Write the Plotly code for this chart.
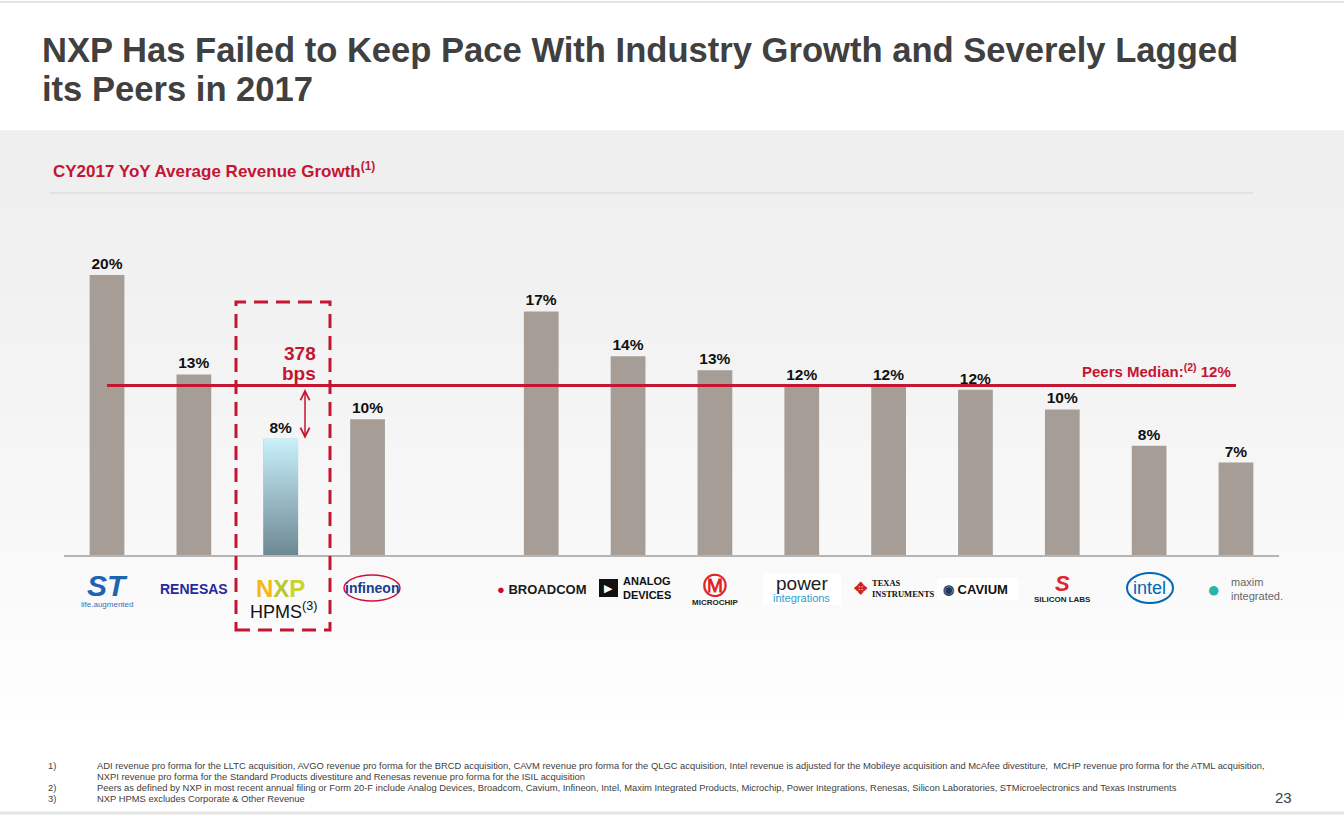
import plotly.graph_objects as go

W, H = 1344, 816

# ---------------- data ----------------
companies = ["STMicroelectronics", "Renesas", "NXP HPMS", "Infineon",
             "Broadcom", "Analog Devices", "Microchip", "Power Integrations",
             "Texas Instruments", "Cavium", "Silicon Labs", "Intel", "Maxim Integrated"]
tickers = ["STM US", "Renesas JP", "NXPI HPMS", "IFX GR",
           "AVGO US", "ADI US", "MCHP US", "POWI US",
           "TXN US", "CAVM US", "SLAB US", "INTC US", "MXIM US"]
group = [0, 0, 0, 0, 1, 1, 1, 1, 1, 1, 1, 1, 1]
growth = [20.0, 12.9, 8.3, 9.7, 17.4, 14.2, 13.2, 12.1, 12.1, 11.8, 10.4, 7.8, 6.6]
growth_labels = ["20%", "13%", "8%", "10%", "17%", "14%", "13%", "12%", "12%", "12%", "10%", "8%", "7%"]
peers_median = 12.1
median_label = "12%"
gap_bps = "378"
nxp_index = 2

positions = [i + g for i, g in enumerate(group)]

FONT = "Liberation Sans, Arial, sans-serif"
RED = "#c41532"
BAR = "#a59d96"


def px(x):
    return x / W


def py(y):
    return 1 - y / H


# ---------------- plot area geometry ----------------
x_left, x_right = 63.6, 1279.4
y_base, y_top = 555, 205
y_max = 25

colors = [BAR] * len(growth)
colors[nxp_index] = "#9cc3cd"

fig = go.Figure()
fig.add_trace(go.Bar(
    x=positions, y=growth, width=0.4,
    marker=dict(color=colors, line=dict(width=0)),
    text=growth_labels, textposition="outside",
    textfont=dict(family=FONT, size=15.5, color="#111111", weight="bold"),
    cliponaxis=False, hoverinfo="skip", showlegend=False,
))

# gradient fill for NXP bar
p = positions[nxp_index]
v = growth[nxp_index]
fig.add_trace(go.Scatter(
    x=[p - 0.2, p + 0.2, p + 0.2, p - 0.2, p - 0.2],
    y=[0, 0, v, v, 0],
    mode="lines", line=dict(width=0), fill="toself",
    fillgradient=dict(type="vertical", colorscale=[[0, "#6d8893"], [1, "#c9f1fb"]]),
    hoverinfo="skip", showlegend=False,
))

shapes = []
# background gradient band
n = 40
top, bot = 130, 730
for k in range(n):
    y0 = top + (bot - top) * k / n
    y1 = top + (bot - top) * (k + 1) / n
    c = int(239 + (255 - 239) * (k / (n - 1)) ** 1.3)
    shapes.append(dict(type="rect", xref="paper", yref="paper", x0=0, x1=1,
                       y0=py(y1), y1=py(y0), fillcolor=f"rgb({c},{c},{c})",
                       line=dict(width=0), layer="below"))
# top / bottom thin frame lines
shapes.append(dict(type="line", xref="paper", yref="paper", x0=0, x1=1, y0=py(2), y1=py(2),
                   line=dict(color="#e4e4e4", width=2)))
shapes.append(dict(type="line", xref="paper", yref="paper", x0=0, x1=1, y0=py(813), y1=py(813),
                   line=dict(color="#e4e4e4", width=3)))
# subtitle rule
shapes.append(dict(type="line", xref="paper", yref="paper", x0=px(50), x1=px(1253),
                   y0=py(193), y1=py(193), line=dict(color="#dedede", width=1.5)))
# median line
shapes.append(dict(type="line", xref="x", yref="y", x0=positions[0], x1=positions[-1],
                   y0=peers_median, y1=peers_median, line=dict(color=RED, width=3), layer="above"))
# dashed box around NXP
shapes.append(dict(type="rect", xref="paper", yref="paper", x0=px(236), x1=px(330),
                   y0=py(630), y1=py(302), line=dict(color=RED, width=3, dash="14px,8px"),
                   fillcolor="rgba(0,0,0,0)", layer="above"))
# logo decorations
shapes.append(dict(type="circle", xref="paper", yref="paper", x0=px(344), x1=px(400),
                   y0=py(601), y1=py(575), line=dict(color="#d0103a", width=1.5)))
shapes.append(dict(type="circle", xref="paper", yref="paper", x0=px(1127), x1=px(1173),
                   y0=py(603), y1=py(573), line=dict(color="#0068b5", width=2)))
shapes.append(dict(type="rect", xref="paper", yref="paper", x0=px(599), x1=px(618),
                   y0=py(597), y1=py(579), fillcolor="#111111", line=dict(width=0)))
shapes.append(dict(type="rect", xref="paper", yref="paper", x0=px(763), x1=px(841),
                   y0=py(605), y1=py(573), fillcolor="#ffffff", line=dict(width=0)))
shapes.append(dict(type="rect", xref="paper", yref="paper", x0=px(937), x1=px(1018),
                   y0=py(600), y1=py(578), fillcolor="#ffffff", line=dict(width=0)))

annotations = []


def txt(x, y, text, size, color="#111111", xanchor="center", yanchor="middle",
        bold=False, family=FONT, align="center"):
    annotations.append(dict(
        x=px(x), y=py(y), xref="paper", yref="paper", text=text, showarrow=False,
        xanchor=xanchor, yanchor=yanchor, align=align,
        font=dict(family=family, size=size, color=color, weight="bold" if bold else "normal"),
    ))


# Title (two lines)
txt(40, 50, "NXP Has Failed to Keep Pace With Industry Growth and Severely Lagged",
    34.6, "#404040", xanchor="left", bold=True, align="left")
txt(40, 89, "its Peers in 2017",
    34.6, "#404040", xanchor="left", bold=True, align="left")
# subtitle
txt(51, 170, "CY2017 YoY Average Revenue Growth<sup>(1)</sup>", 17, RED, xanchor="left", bold=True)

# median label
txt(1233, 371, "Peers Median:<sup>(2)</sup> " + median_label, 15, RED, xanchor="right", bold=True)
# bps label
txt(318, 353, gap_bps, 19, RED, xanchor="right", bold=True)
txt(318, 374, "bps", 19, RED, xanchor="right", bold=True)

# arrow between median and NXP
arrow_x = p + 0.28
annotations.append(dict(
    x=arrow_x, y=v, xref="x", yref="y", ax=arrow_x, ay=peers_median, axref="x", ayref="y",
    showarrow=True, arrowhead=5, startarrowhead=5, arrowside="end+start",
    arrowsize=1.2, startarrowsize=1.2, arrowwidth=1.5, arrowcolor=RED, text="", standoff=0,
    startstandoff=2,
))

# HPMS label
txt(283, 610, "HPMS<sup>(3)</sup>", 18, "#111111")

# ---------- logo-like company marks (text) ----------
cx = [x_left + (x_right - x_left) * (q + 0.5) / 14 for q in positions]
# ST
txt(cx[0], 585, "<i>ST</i>", 30, "#1f64b0", bold=True)
txt(cx[0], 604, "life.augmented", 8, "#3a6fb8")
# Renesas
txt(cx[1], 589, "RENESAS", 14, "#27289a", bold=True)
# NXP
txt(cx[2], 588, "<span style='color:#f6b817'>N</span><span style='color:#b9c631'>X</span>"
    "<span style='color:#c9d42a'>P</span>", 24, "#f6b817", bold=True)
# Infineon
txt(cx[3] + 4, 588, "infineon", 14, "#1b3c8e", bold=True)
# Broadcom
txt(cx[4], 589, "<span style='color:#cc092f'>●</span> BROADCOM", 13, "#1a1a1a", bold=True)
# ADI
txt(608, 588, "▶", 11, "#ffffff")
txt(621, 588, "ANALOG<br>DEVICES", 11, "#111111", xanchor="left", bold=True, align="left")
# Microchip
txt(cx[6], 585, "Ⓜ", 24, "#e0241f", bold=True)
txt(cx[6], 602, "MICROCHIP", 8, "#222222", bold=True)
# Power integrations
txt(cx[7], 583, "power", 19, "#222222")
txt(cx[7], 598, "integrations", 11, "#2a9fd0")
# Texas Instruments
txt(861, 588, "✥", 16, "#cc1f1f", bold=True)
txt(870, 588, "TEXAS<br>INSTRUMENTS", 8.5, "#111111", xanchor="left", bold=True,
    family="Liberation Serif, serif", align="left")
# Cavium
txt(cx[9], 589, "<span style='color:#1f3b5c'>◉</span> CAVIUM", 13, "#111111", bold=True)
# Silicon Labs
txt(cx[10], 583, "<i>S</i>", 22, "#e0242a", bold=True)
txt(cx[10], 599, "SILICON LABS", 8, "#222222", bold=True)
# Intel
txt(cx[11], 588, "intel", 18, "#0068b5")
# Maxim
txt(1213, 589, "●", 22, "#2bb3a7")
txt(1229, 589, "maxim<br>integrated.", 11, "#666666", xanchor="left", align="left")

# footnotes
foot_nums = ["1)", "", "2)", "3)"]
foot_text = [
    "ADI revenue pro forma for the LLTC acquisition, AVGO revenue pro forma for the BRCD acquisition, CAVM revenue pro forma for the QLGC acquisition, Intel revenue is adjusted for the Mobileye acquisition and McAfee divestiture,  MCHP revenue pro forma for the ATML acquisition,",
    "NXPI revenue pro forma for the Standard Products divestiture and Renesas revenue pro forma for the ISIL acquisition",
    "Peers as defined by NXP in most recent annual filing or Form 20-F include Analog Devices, Broadcom, Cavium, Infineon, Intel, Maxim Integrated Products, Microchip, Power Integrations, Renesas, Silicon Laboratories, STMicroelectronics and Texas Instruments",
    "NXP HPMS excludes Corporate & Other Revenue",
]
for k, (nm, t) in enumerate(zip(foot_nums, foot_text)):
    yy = 765 + 11 * k
    if nm:
        txt(46, yy, nm, 9.4, "#404040", xanchor="left")
    txt(95, yy, t, 9.4, "#404040", xanchor="left")
txt(1283, 797, "23", 15, "#404040")

fig.update_layout(
    width=W, height=H,
    margin=dict(l=0, r=0, t=0, b=0),
    paper_bgcolor="#ffffff", plot_bgcolor="rgba(0,0,0,0)",
    showlegend=False,
    xaxis=dict(domain=[px(x_left), px(x_right)], range=[-0.5, 13.5],
               tickvals=positions, ticktext=tickers, showgrid=False, zeroline=False,
               showline=True, linecolor="#b5b5b5", linewidth=1.5, ticks="",
               tickfont=dict(family=FONT, size=10, color="#fbfbfb"), fixedrange=True),
    yaxis=dict(domain=[py(y_base), py(y_top)], range=[0, y_max], visible=False,
               showgrid=False, zeroline=False, fixedrange=True),
    shapes=shapes, annotations=annotations,
    font=dict(family=FONT),
)

fig.write_html("out.html", config={"displayModeBar": False},
               post_script="document.body.style.margin='0';document.body.style.overflow='hidden';")
